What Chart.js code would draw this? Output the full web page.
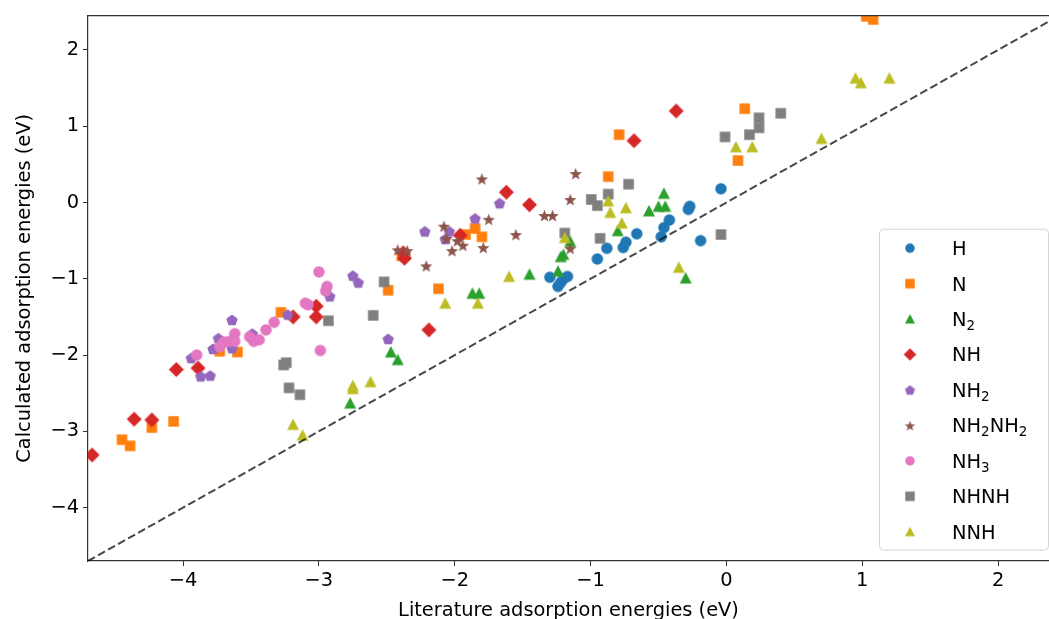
<!DOCTYPE html>
<html lang="en">
<head>
  <meta charset="UTF-8" />
  <title>Calculated vs literature adsorption energies</title>
  <script src="https://cdn.jsdelivr.net/npm/chart.js"></script>
  <style>
    body { margin: 0; background: #fff; }
    #wrap { width: 1049px; height: 619px; }
  </style>
</head>
<body>
  <div id="wrap"><canvas id="chart" width="1049" height="619"></canvas></div>

  <script>
    // adsorbate names, in plotting order (digits are subscripts)
    const species = ['H', 'N', 'N2', 'NH', 'NH2', 'NH2NH2', 'NH3', 'NHNH', 'NNH'];

    const xTicks = [-4, -3, -2, -1, 0, 1, 2];
    const yTicks = [-4, -3, -2, -1, 0, 1, 2];
    const xRange = [-4.7, 2.375];
    const yRange = [-4.7, 2.45];
    const parity = [-4.7, 2.45];   // y = x reference line

    // literature (x) and calculated (y) energies, eV
    const hX = [-1.30, -1.24, -1.22, -1.20, -1.17, -0.95, -0.88, -0.76, -0.74, -0.66, -0.48, -0.46, -0.42, -0.28, -0.27, -0.19, -0.04];
    const hY = [-0.98, -1.10, -1.05, -1.00, -0.97, -0.74, -0.60, -0.59, -0.52, -0.41, -0.45, -0.33, -0.23, -0.09, -0.05, -0.50, 0.18];

    const nX = [-4.45, -4.39, -4.23, -4.07, -3.73, -3.60, -3.28, -2.49, -2.39, -2.12, -1.92, -1.85, -1.80, -0.87, -0.79, 0.085, 0.135, 1.03, 1.08];
    const nY = [-3.11, -3.19, -2.95, -2.87, -1.95, -1.96, -1.44, -1.15, -0.70, -1.13, -0.42, -0.34, -0.45, 0.34, 0.89, 0.55, 1.23, 2.44, 2.40];

    const n2X = [-2.77, -2.47, -2.42, -1.87, -1.82, -1.45, -1.24, -1.22, -1.20, -1.15, -0.80, -0.57, -0.50, -0.46, -0.45, -0.30];
    const n2Y = [-2.63, -1.96, -2.06, -1.19, -1.19, -0.94, -0.90, -0.71, -0.68, -0.51, -0.37, -0.11, -0.05, 0.12, -0.05, -0.99];

    const nhX = [-4.67, -4.36, -4.23, -4.05, -3.89, -3.19, -3.02, -3.02, -2.37, -2.38, -2.19, -1.96, -1.62, -1.45, -0.68, -0.37];
    const nhY = [-3.31, -2.84, -2.85, -2.19, -2.17, -1.50, -1.36, -1.50, -0.73, -0.66, -1.67, -0.43, 0.135, -0.03, 0.81, 1.20];

    const nh2X = [-3.94, -3.87, -3.80, -3.78, -3.74, -3.64, -3.64, -3.49, -3.23, -2.92, -2.75, -2.71, -2.49, -2.22, -2.07, -2.04, -1.85, -1.67];
    const nh2Y = [-2.04, -2.28, -2.27, -1.92, -1.78, -1.54, -1.91, -1.72, -1.47, -1.23, -0.96, -1.05, -1.79, -0.38, -0.48, -0.38, -0.21, -0.01];

    const n2h4X = [-2.42, -2.35, -2.21, -2.08, -2.06, -2.02, -1.98, -1.94, -1.80, -1.79, -1.75, -1.55, -1.34, -1.28, -1.15, -1.15, -1.11];
    const n2h4Y = [-0.62, -0.63, -0.83, -0.31, -0.47, -0.63, -0.50, -0.56, 0.31, -0.59, -0.22, -0.42, -0.17, -0.17, 0.04, -0.60, 0.38];

    const nh3X = [-3.90, -3.73, -3.70, -3.66, -3.62, -3.62, -3.51, -3.48, -3.44, -3.39, -3.33, -3.10, -3.08, -3.00, -2.95, -2.94, -2.99];
    const nh3Y = [-2.00, -1.89, -1.83, -1.82, -1.72, -1.82, -1.76, -1.82, -1.80, -1.67, -1.57, -1.32, -1.34, -0.91, -1.16, -1.10, -1.94];

    const nhnhX = [-3.26, -3.24, -3.22, -3.14, -2.93, -2.60, -2.52, -1.19, -0.995, -0.95, -0.93, -0.87, -0.72, -0.04, -0.01, 0.17, 0.24, 0.24, 0.40];
    const nhnhY = [-2.13, -2.10, -2.43, -2.52, -1.55, -1.48, -1.04, -0.40, 0.04, -0.04, -0.47, 0.11, 0.24, -0.42, 0.86, 0.89, 1.11, 0.98, 1.17];

    const nnhX = [-3.19, -3.12, -2.75, -2.75, -2.62, -2.07, -1.83, -1.60, -1.19, -0.87, -0.855, -0.77, -0.74, -0.35, 0.07, 0.19, 0.70, 0.95, 0.99, 1.20];
    const nnhY = [-2.91, -3.05, -2.40, -2.44, -2.35, -1.32, -1.32, -0.97, -0.46, 0.02, -0.13, -0.27, -0.07, -0.85, 0.73, 0.73, 0.84, 1.63, 1.57, 1.63];

    const seriesX = [hX, nX, n2X, nhX, nh2X, n2h4X, nh3X, nhnhX, nnhX];
    const seriesY = [hY, nY, n2Y, nhY, nh2Y, n2h4Y, nh3Y, nhnhY, nnhY];

    const colors = ['#1f77b4', '#ff7f0e', '#2ca02c', '#d62728', '#9467bd', '#8c564b', '#e377c2', '#7f7f7f', '#bcbd22'];
    const shapes = ['circle', 'square', 'triangle', 'diamond', 'pentagon', 'star', 'circle', 'square', 'triangle'];
    const plotSize = { circle: 11.5, square: 10.5, triangle: 12, diamond: 15, pentagon: 12, star: 13 };
    const legendSize = { circle: 9.5, square: 9.5, triangle: 10, diamond: 12.5, pentagon: 10.5, star: 11 };

    const FONT = '"DejaVu Sans", sans-serif';

    // little canvases used as point styles
    function marker(shape, color, s) {
      const n = Math.ceil(s) + 4;
      const c = document.createElement('canvas');
      c.width = n; c.height = n;
      const g = c.getContext('2d');
      const h = n / 2, r = s / 2;
      g.fillStyle = color;
      g.beginPath();
      if (shape === 'circle') {
        g.arc(h, h, r, 0, Math.PI * 2);
      } else if (shape === 'square') {
        g.rect(h - r, h - r, s, s);
      } else if (shape === 'diamond') {
        g.moveTo(h, h - r); g.lineTo(h + r, h); g.lineTo(h, h + r); g.lineTo(h - r, h);
      } else if (shape === 'triangle') {
        g.moveTo(h, h - r); g.lineTo(h + r, h + r * 0.9); g.lineTo(h - r, h + r * 0.9);
      } else if (shape === 'pentagon') {
        for (let i = 0; i < 5; i++) {
          const a = -Math.PI / 2 + i * 2 * Math.PI / 5;
          g.lineTo(h + r * Math.cos(a), h + 0.5 + r * Math.sin(a));
        }
      } else if (shape === 'star') {
        for (let i = 0; i < 10; i++) {
          const a = -Math.PI / 2 + i * Math.PI / 5;
          const rr = i % 2 ? r * 0.42 : r;
          g.lineTo(h + rr * Math.cos(a), h + 0.8 + rr * Math.sin(a));
        }
      }
      g.closePath();
      g.fill();
      return c;
    }

    const fmt = v => (v < 0 ? '\u2212' + Math.abs(v) : String(v));

    const datasets = species.map((name, i) => ({
      label: name,
      data: seriesX[i].map((x, j) => ({ x: x, y: seriesY[i][j] })),
      pointStyle: marker(shapes[i], colors[i], plotSize[shapes[i]]),
      pointRadius: 6,
      order: species.length - i
    }));

    datasets.push({
      type: 'line',
      label: 'parity',
      data: parity.map(v => ({ x: v, y: v })),
      showLine: true,
      borderColor: 'rgba(0,0,0,0.72)',
      borderWidth: 2,
      borderDash: [8, 3.5],
      pointRadius: 0,
      order: -1
    });

    // top spine (the right one is cut off in the original)
    const frame = {
      id: 'frame',
      afterDraw(chart) {
        const { ctx, chartArea: a } = chart;
        ctx.save();
        ctx.strokeStyle = '#333';
        ctx.lineWidth = 1.2;
        ctx.beginPath();
        ctx.moveTo(a.left, a.top);
        ctx.lineTo(a.right, a.top);
        ctx.stroke();
        ctx.restore();
      }
    };

    function drawLabel(ctx, text, x, y) {
      // digits are drawn as subscripts
      let cx = x;
      for (const ch of text) {
        if (/\d/.test(ch)) {
          ctx.font = '13.5px ' + FONT;
          ctx.fillText(ch, cx, y + 4);
        } else {
          ctx.font = '19.4px ' + FONT;
          ctx.fillText(ch, cx, y);
        }
        cx += ctx.measureText(ch).width;
      }
    }

    const legendBox = {
      id: 'legendBox',
      afterDraw(chart) {
        const { ctx, chartArea: a } = chart;
        const left = a.right - 170, top = a.top + 213, w = 169, h = 321;
        ctx.save();
        ctx.beginPath();
        ctx.roundRect(left + 0.5, top + 0.5, w, h, 4);
        ctx.fillStyle = 'rgba(255,255,255,0.85)';
        ctx.fill();
        ctx.strokeStyle = '#d6d6d6';
        ctx.lineWidth = 1;
        ctx.stroke();
        ctx.fillStyle = '#000';
        ctx.textBaseline = 'alphabetic';
        species.forEach((name, i) => {
          const cy = top + 19.5 + i * 35.45;
          const m = marker(shapes[i], colors[i], legendSize[shapes[i]]);
          ctx.drawImage(m, left + 31 - m.width / 2, cy - m.height / 2);
          ctx.fillStyle = '#000';
          drawLabel(ctx, name, left + 73, cy + 7);
        });
        ctx.restore();
      }
    };

    const axisCommon = {
      type: 'linear',
      grid: { drawOnChartArea: false, drawTicks: true, tickLength: 5, color: '#333', lineWidth: 1 },
      border: { display: true, color: '#333', width: 1.2 },
      ticks: { color: '#000', font: { family: FONT, size: 19.4 }, callback: fmt }
    };

    new Chart(document.getElementById('chart'), {
      type: 'scatter',
      data: { datasets: datasets },
      options: {
        responsive: false,
        animation: false,
        events: [],
        layout: { autoPadding: false, padding: { top: 14, left: 0, right: 0, bottom: -2 } },
        plugins: { legend: { display: false }, tooltip: { enabled: false } },
        scales: {
          x: Object.assign({}, axisCommon, {
            min: xRange[0], max: xRange[1],
            ticks: Object.assign({}, axisCommon.ticks, { padding: 3, maxRotation: 0 }),
            afterBuildTicks: s => { s.ticks = xTicks.map(v => ({ value: v })); },
            afterFit: s => { s.height = 60; s.paddingLeft = 0; s.paddingRight = 0; },
            title: {
              display: true, text: 'Literature adsorption energies (eV)', color: '#000',
              font: { family: FONT, size: 19.4, lineHeight: 1 }, padding: { top: 0, bottom: 0 }
            }
          }),
          y: Object.assign({}, axisCommon, {
            min: yRange[0], max: yRange[1],
            ticks: Object.assign({}, axisCommon.ticks, { padding: 4 }),
            afterBuildTicks: s => { s.ticks = yTicks.map(v => ({ value: v })); },
            afterFit: s => { s.width = 88; },
            title: {
              display: true, text: 'Calculated adsorption energies (eV)', color: '#000',
              font: { family: FONT, size: 19.4, lineHeight: 1 }, padding: { top: 15, bottom: 0 }
            }
          })
        }
      },
      plugins: [frame, legendBox]
    });
  </script>
</body>
</html>
